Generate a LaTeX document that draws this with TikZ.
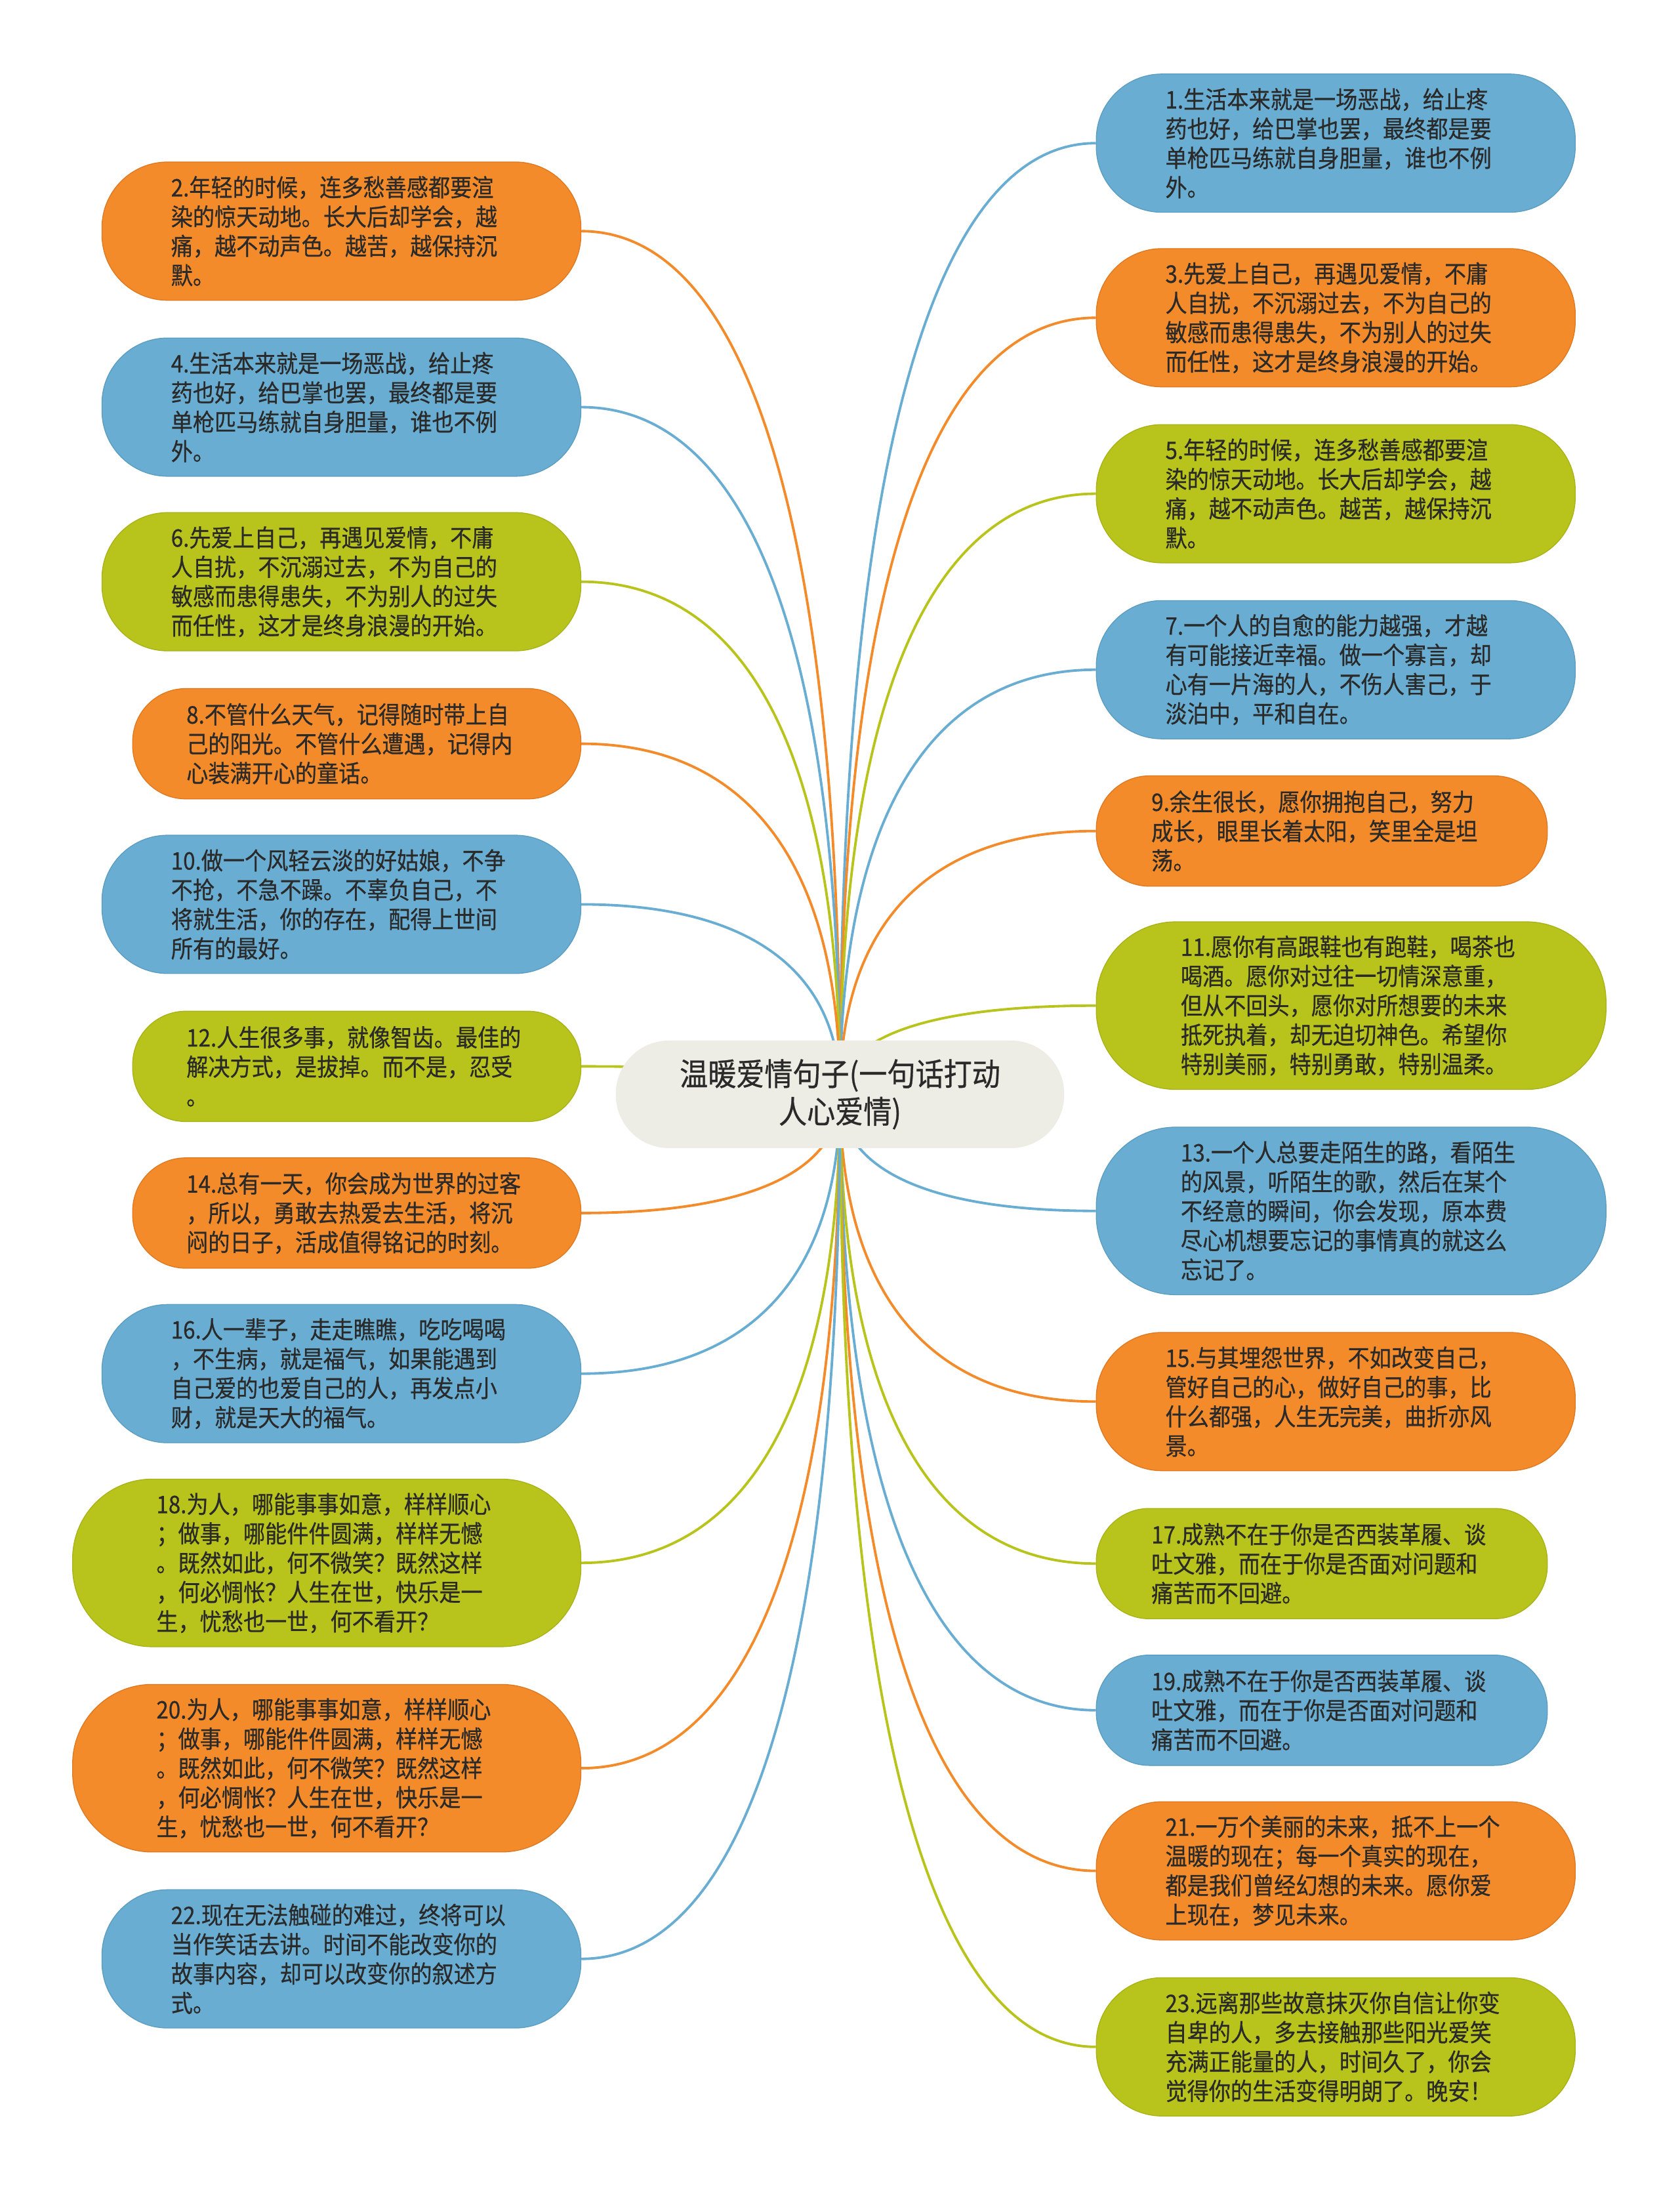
\documentclass[tikz,border=0pt]{standalone}
\usepackage{fontspec}
\setmainfont[FakeStretch=0.9,FakeBold=0.6]{Noto Sans CJK SC}
\usetikzlibrary{calc,backgrounds}
\definecolor{ora}{HTML}{F38B2B}
\definecolor{orad}{HTML}{DE7820}
\definecolor{blu}{HTML}{69AED2}
\definecolor{blud}{HTML}{5A9CC0}
\definecolor{gre}{HTML}{B8C41B}
\definecolor{gred}{HTML}{A6B215}
\definecolor{cen}{HTML}{EDEDE5}
\definecolor{txt}{HTML}{2A2A2A}
\tikzset{
  bub/.style={rectangle, inner sep=0pt, text width=244pt, align=left,
    font=\fontsize{17.3}{21}\selectfont, text=txt, line width=0.6pt, minimum width=#1},
  h3/.style={minimum height=79pt, rounded corners=38pt},
  h4/.style={minimum height=99pt, rounded corners=47pt},
  h5/.style={minimum height=120pt, rounded corners=57pt},
  ob/.style={fill=ora, draw=orad},
  bb/.style={fill=blu, draw=blud},
  gb/.style={fill=gre, draw=gred},
  conn/.style={line width=1.8pt},
  co/.style={conn, draw=ora},
  cb/.style={conn, draw=blu},
  cg/.style={conn, draw=gre},
}
\newcommand\lnk[3]{%
  \draw[#3] (c.center) .. controls ($(c.center)!0.65!(c.center|-#1.#2)$) and ($(#1.#2)!0.65!(c.center|-#1.#2)$) .. (#1.#2);}
\begin{document}
\begin{tikzpicture}[x=1pt,y=-1pt]
\useasboundingbox (0,0) rectangle (1203,1568);

\node[rectangle, fill=cen, rounded corners=38pt, minimum width=321pt, minimum height=77pt,
  align=center, text=txt, font=\fontsize{22.5}{27}\selectfont] (c) at (601.5,783.5)
  {温暖爱情句子(一句话打动\\人心爱情)};

% right side
\node[bub=343pt, h4, bb] (n1) at (956.5,102.5) {1.生活本来就是一场恶战，给止疼\\药也好，给巴掌也罢，最终都是要\\单枪匹马练就自身胆量，谁也不例\\外。};
\node[bub=343pt, h4, ob] (n3) at (956.5,227.5) {3.先爱上自己，再遇见爱情，不庸\\人自扰，不沉溺过去，不为自己的\\敏感而患得患失，不为别人的过失\\而任性，这才是终身浪漫的开始。};
\node[bub=343pt, h4, gb] (n5) at (956.5,353.5) {5.年轻的时候，连多愁善感都要渲\\染的惊天动地。长大后却学会，越\\痛，越不动声色。越苦，越保持沉\\默。};
\node[bub=343pt, h4, bb] (n7) at (956.5,479.5) {7.一个人的自愈的能力越强，才越\\有可能接近幸福。做一个寡言，却\\心有一片海的人，不伤人害己，于\\淡泊中，平和自在。};
\node[bub=323pt, h3, ob] (n9) at (946.5,595) {9.余生很长，愿你拥抱自己，努力\\成长，眼里长着太阳，笑里全是坦\\荡。};
\node[bub=365pt, h5, gb] (n11) at (967.5,720) {11.愿你有高跟鞋也有跑鞋，喝茶也\\喝酒。愿你对过往一切情深意重，\\但从不回头，愿你对所想要的未来\\抵死执着，却无迫切神色。希望你\\特别美丽，特别勇敢，特别温柔。};
\node[bub=365pt, h5, bb] (n13) at (967.5,867) {13.一个人总要走陌生的路，看陌生\\的风景，听陌生的歌，然后在某个\\不经意的瞬间，你会发现，原本费\\尽心机想要忘记的事情真的就这么\\忘记了。};
\node[bub=343pt, h4, ob] (n15) at (956.5,1003.5) {15.与其埋怨世界，不如改变自己，\\管好自己的心，做好自己的事，比\\什么都强，人生无完美，曲折亦风\\景。};
\node[bub=323pt, h3, gb] (n17) at (946.5,1119.5) {17.成熟不在于你是否西装革履、谈\\吐文雅，而在于你是否面对问题和\\痛苦而不回避。};
\node[bub=323pt, h3, bb] (n19) at (946.5,1224.5) {19.成熟不在于你是否西装革履、谈\\吐文雅，而在于你是否面对问题和\\痛苦而不回避。};
\node[bub=343pt, h4, ob] (n21) at (956.5,1339.5) {21.一万个美丽的未来，抵不上一个\\温暖的现在；每一个真实的现在，\\都是我们曾经幻想的未来。愿你爱\\上现在，梦见未来。};
\node[bub=343pt, h4, gb] (n23) at (956.5,1465.5) {23.远离那些故意抹灭你自信让你变\\自卑的人，多去接触那些阳光爱笑\\充满正能量的人，时间久了，你会\\觉得你的生活变得明朗了。晚安！};

% left side
\node[bub=343pt, h4, ob] (n2) at (244.5,165.5) {2.年轻的时候，连多愁善感都要渲\\染的惊天动地。长大后却学会，越\\痛，越不动声色。越苦，越保持沉\\默。};
\node[bub=343pt, h4, bb] (n4) at (244.5,291.5) {4.生活本来就是一场恶战，给止疼\\药也好，给巴掌也罢，最终都是要\\单枪匹马练就自身胆量，谁也不例\\外。};
\node[bub=343pt, h4, gb] (n6) at (244.5,416.5) {6.先爱上自己，再遇见爱情，不庸\\人自扰，不沉溺过去，不为自己的\\敏感而患得患失，不为别人的过失\\而任性，这才是终身浪漫的开始。};
\node[bub=321pt, h3, ob] (n8) at (255.5,532.5) {8.不管什么天气，记得随时带上自\\己的阳光。不管什么遭遇，记得内\\心装满开心的童话。};
\node[bub=343pt, h4, bb] (n10) at (244.5,647.5) {10.做一个风轻云淡的好姑娘，不争\\不抢，不急不躁。不辜负自己，不\\将就生活，你的存在，配得上世间\\所有的最好。};
\node[bub=321pt, h3, gb] (n12) at (255.5,763.5) {12.人生很多事，就像智齿。最佳的\\解决方式，是拔掉。而不是，忍受\\。};
\node[bub=321pt, h3, ob] (n14) at (255.5,868.5) {14.总有一天，你会成为世界的过客\\，所以，勇敢去热爱去生活，将沉\\闷的日子，活成值得铭记的时刻。};
\node[bub=343pt, h4, bb] (n16) at (244.5,983.5) {16.人一辈子，走走瞧瞧，吃吃喝喝\\，不生病，就是福气，如果能遇到\\自己爱的也爱自己的人，再发点小\\财，就是天大的福气。};
\node[bub=364pt, h5, gb] (n18) at (234,1119) {18.为人，哪能事事如意，样样顺心\\；做事，哪能件件圆满，样样无憾\\。既然如此，何不微笑？既然这样\\，何必惆怅？人生在世，快乐是一\\生，忧愁也一世，何不看开？};
\node[bub=364pt, h5, ob] (n20) at (234,1266) {20.为人，哪能事事如意，样样顺心\\；做事，哪能件件圆满，样样无憾\\。既然如此，何不微笑？既然这样\\，何必惆怅？人生在世，快乐是一\\生，忧愁也一世，何不看开？};
\node[bub=343pt, h4, bb] (n22) at (244.5,1402.5) {22.现在无法触碰的难过，终将可以\\当作笑话去讲。时间不能改变你的\\故事内容，却可以改变你的叙述方\\式。};

\begin{scope}[on background layer]
\fill[white] (0,0) rectangle (1203,1568);
\lnk{n1}{west}{cb}
\lnk{n3}{west}{co}
\lnk{n5}{west}{cg}
\lnk{n7}{west}{cb}
\lnk{n9}{west}{co}
\lnk{n11}{west}{cg}
\lnk{n13}{west}{cb}
\lnk{n15}{west}{co}
\lnk{n17}{west}{cg}
\lnk{n19}{west}{cb}
\lnk{n21}{west}{co}
\lnk{n23}{west}{cg}
\lnk{n2}{east}{co}
\lnk{n4}{east}{cb}
\lnk{n6}{east}{cg}
\lnk{n8}{east}{co}
\lnk{n10}{east}{cb}
\lnk{n12}{east}{cg}
\lnk{n14}{east}{co}
\lnk{n16}{east}{cb}
\lnk{n18}{east}{cg}
\lnk{n20}{east}{co}
\lnk{n22}{east}{cb}
\end{scope}
\end{tikzpicture}
\end{document}
